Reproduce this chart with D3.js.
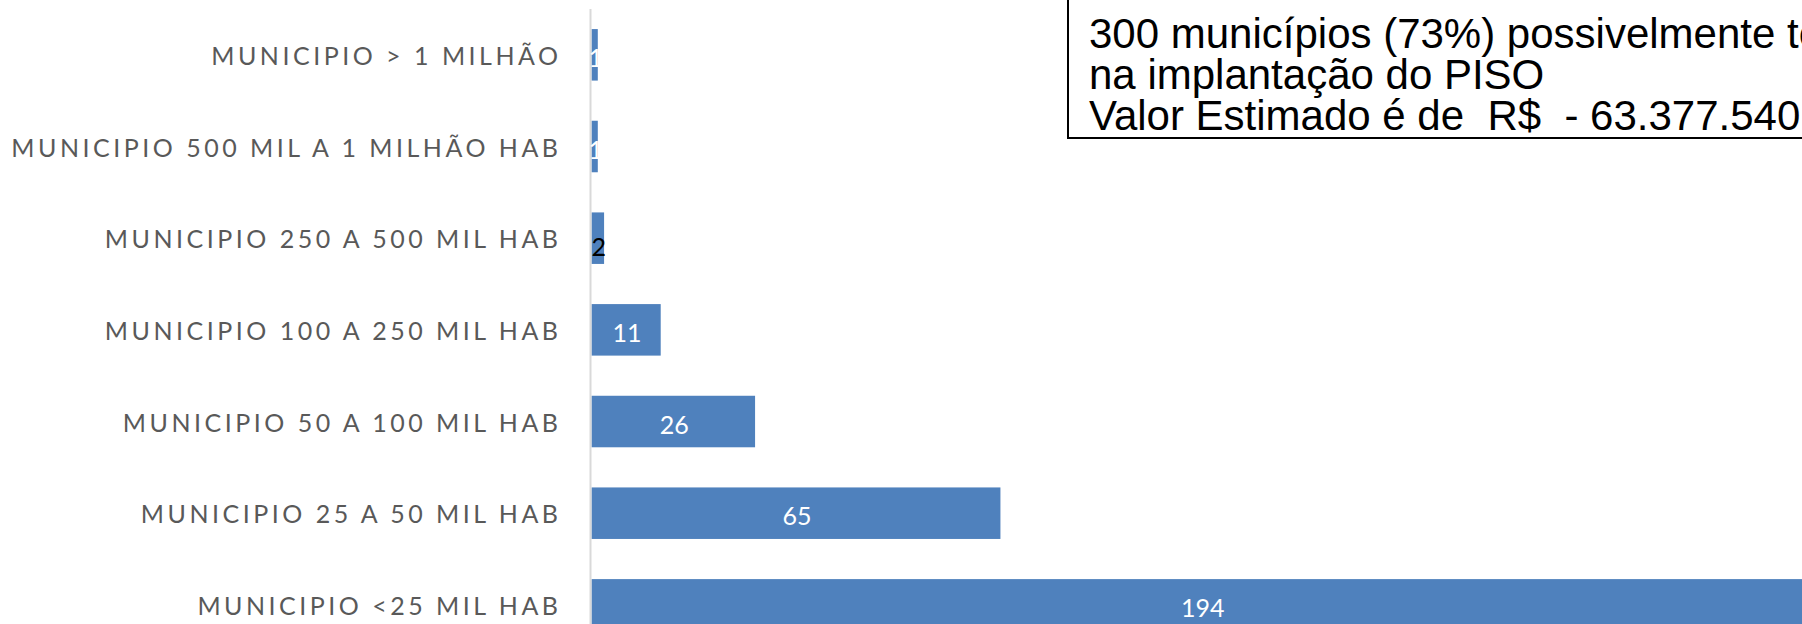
<!DOCTYPE html>
<html>
<head>
<meta charset="utf-8">
<script src="https://cdn.jsdelivr.net/npm/d3@7/dist/d3.min.js"></script>
<style>
  html, body { margin: 0; padding: 0; background: #ffffff; overflow: hidden; }
  svg { display: block; }
</style>
</head>
<body>
<svg id="chart" width="1802" height="624"></svg>
<script>
// ---- data ----
const categories = [
  "MUNICIPIO > 1 MILHÃO",
  "MUNICIPIO 500 MIL A 1 MILHÃO HAB",
  "MUNICIPIO 250 A 500 MIL HAB",
  "MUNICIPIO 100 A 250 MIL HAB",
  "MUNICIPIO 50 A 100 MIL HAB",
  "MUNICIPIO 25 A 50 MIL HAB",
  "MUNICIPIO <25 MIL HAB"
];
const values = [1, 1, 2, 11, 26, 65, 194];
const labelColors = ["#ffffff", "#ffffff", "#000000", "#ffffff", "#ffffff", "#ffffff", "#ffffff"];
const noteLines = [
  "300 municípios (73%) possivelmente terão dificuldades",
  "na implantação do PISO",
  "Valor Estimado é de  R$  - 63.377.540,00"
];

// ---- layout ----
const svg = d3.select("#chart");
const axisX = 591.5;
const plotTop = 9, plotBottom = 650.7;
const xRight = 1812;

const x = d3.scaleLinear().domain([0, d3.max(values)]).range([axisX, xRight]);
const y = d3.scaleBand().domain(categories).range([plotTop, plotBottom])
  .paddingInner(0.438).paddingOuter(0.219);

const data = categories.map((c, i) => ({ c, v: values[i], col: labelColors[i] }));

// bars
svg.append("g").selectAll("rect").data(data).join("rect")
  .attr("x", x(0))
  .attr("y", d => y(d.c))
  .attr("width", d => x(d.v) - x(0))
  .attr("height", y.bandwidth())
  .attr("fill", "#4F81BD");

// vertical category axis line
const yAxis = d3.axisLeft(y).tickSize(0).tickPadding(0).tickFormat("");
const ag = svg.append("g").attr("transform", `translate(${axisX - 1},0)`).call(yAxis);
ag.select(".domain").attr("stroke", "#d9d9d9").attr("stroke-width", 2)
  .attr("d", `M0,${plotTop}V${plotBottom}`);

// category labels
const spacing = 3.5;
svg.append("g").selectAll("text").data(data).join("text")
  .attr("x", 558 + spacing)
  .attr("y", d => y(d.c) + y.bandwidth() / 2)
  .attr("text-anchor", "end")
  .attr("dominant-baseline", "central")
  .attr("font-family", "Lato, 'Open Sans', sans-serif")
  .attr("font-size", 25)
  .attr("letter-spacing", spacing)
  .attr("fill", "#595959")
  .text(d => d.c);

// data labels
svg.append("g").selectAll("text").data(data).join("text")
  .attr("x", d => (x(0) + x(d.v)) / 2 + 1)
  .attr("y", d => y(d.c) + y.bandwidth() / 2 + (d.v === 2 ? 8 : 2))
  .attr("text-anchor", "middle")
  .attr("dominant-baseline", "central")
  .attr("font-family", "Lato, 'Open Sans', sans-serif")
  .attr("font-size", 25)
  .attr("fill", d => d.col)
  .text(d => d.v);

// annotation box
const note = svg.append("g");
note.append("rect")
  .attr("x", 1068).attr("y", -10)
  .attr("width", 900).attr("height", 148)
  .attr("fill", "#ffffff").attr("stroke", "#000000").attr("stroke-width", 2);
note.selectAll("text").data(noteLines).join("text")
  .attr("x", 1089)
  .attr("y", (d, i) => 48 + i * 41)
  .attr("font-family", "'Liberation Sans', Arial, sans-serif")
  .attr("font-size", 42)
  .attr("fill", "#000000")
  .style("white-space", "pre")
  .text(d => d);
</script>
</body>
</html>
